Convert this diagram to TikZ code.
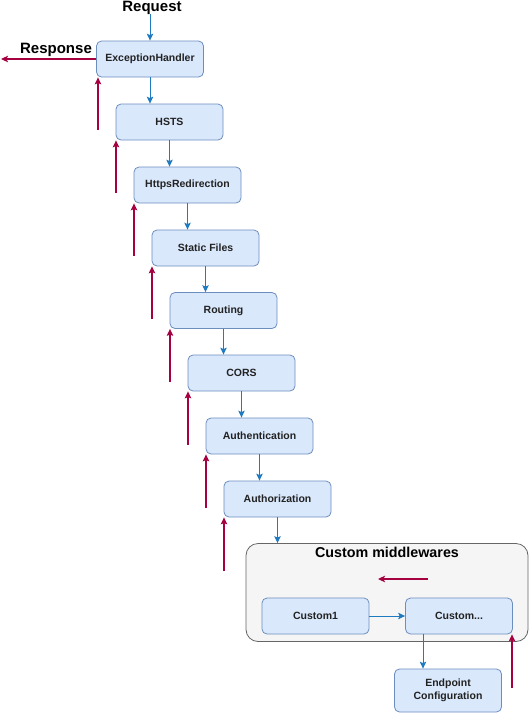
\documentclass[tikz,border=0pt]{standalone}
\usepackage{fontspec}
\setmainfont{Liberation Sans}
\usetikzlibrary{arrows.meta}
\definecolor{boxfill}{HTML}{DAE8FC}
\definecolor{boxline}{HTML}{6C8EBF}
\definecolor{grpfill}{HTML}{F5F5F5}
\definecolor{grpline}{HTML}{666666}
\definecolor{flowblue}{HTML}{1F7BC0}
\definecolor{flowred}{HTML}{A50040}
\definecolor{txt}{HTML}{222222}
\tikzset{
  mwbox/.style={draw=boxline, fill=boxfill, line width=0.8pt, rounded corners=5pt,
    minimum width=107pt, minimum height=36pt, inner sep=0pt, align=center,
    text=txt, font=\fontsize{10.5}{12.5}\selectfont\bfseries},
  grpbox/.style={draw=grpline, fill=grpfill, line width=0.8pt, rounded corners=12pt,
    minimum width=282pt, minimum height=98pt, inner sep=0pt},
  big/.style={font=\fontsize{15}{17}\selectfont\bfseries, text=black, inner sep=0pt},
  fwd/.style={draw=flowblue, line width=1pt, -{Stealth[length=7pt,width=6.5pt,inset=1.5pt]}},
  back/.style={draw=flowred, line width=1.2pt, -{Stealth[length=7pt,width=6.5pt,inset=1.5pt]}}
}
\begin{document}
\begin{tikzpicture}[x=1pt,y=-1pt]
\useasboundingbox (0,0) rectangle (529,715);
% group container
\node[grpbox] (grp) at (387,592.5) {};
\node[big, font=\fontsize{14.3}{16}\selectfont\bfseries, anchor=north] (grptitle) at (387,547) {Custom middlewares};
% boxes
\node[mwbox] (eh) at (150,59) {ExceptionHandler};
\node[mwbox] (hsts) at (169.5,122) {HSTS};
\node[mwbox] (https) at (187.5,185) {HttpsRedirection};
\node[mwbox] (static) at (205.5,248) {Static Files};
\node[mwbox] (routing) at (223.5,310.5) {Routing};
\node[mwbox] (cors) at (241.5,373) {CORS};
\node[mwbox] (authn) at (259.5,436) {Authentication};
\node[mwbox] (authz) at (277.5,499) {Authorization};
\node[mwbox] (c1) at (315.5,616) {Custom1};
\node[mwbox] (cn) at (459,616) {Custom...};
\node[mwbox, minimum height=43pt] (ep) at (448,690.5) {Endpoint\\Configuration};
% labels
\node[big, anchor=north] (req) at (152,0.5) {Request};
\node[big] (resp) at (56,50) {Response};
% free ends
\coordinate (reqend) at (150,14);
\coordinate (respend) at (1,59);
% forward (blue) arrows
\draw[fwd] (reqend) -- (eh.north);
\draw[fwd] (eh.south) -- (eh.south |- hsts.north);
\draw[fwd] (hsts.south) -- (hsts.south |- https.north);
\draw[fwd] (https.south) -- (https.south |- static.north);
\draw[fwd] (static.south) -- (static.south |- routing.north);
\draw[fwd] (routing.south) -- (routing.south |- cors.north);
\draw[fwd] (cors.south) -- (cors.south |- authn.north);
\draw[fwd] (authn.south) -- (authn.south |- authz.north);
\draw[fwd] (authz.south) -- (authz.south |- grp.north);
\draw[fwd] (c1.east) -- (cn.west);
\coordinate (cnout) at (423,634);
\draw[fwd] (cnout) -- (cnout |- ep.north);
% backward (red) arrows
\draw[back] (eh.west) -- (respend);
\coordinate (r1) at (98,130);
\coordinate (r2) at (116,193);
\coordinate (r3) at (134,256);
\coordinate (r4) at (152,319);
\coordinate (r5) at (170,382);
\coordinate (r6) at (188,445);
\coordinate (r7) at (206,508);
\coordinate (r8) at (224,571);
\draw[back] (r1) -- (r1 |- eh.south);
\draw[back] (r2) -- (r2 |- hsts.south);
\draw[back] (r3) -- (r3 |- https.south);
\draw[back] (r4) -- (r4 |- static.south);
\draw[back] (r5) -- (r5 |- routing.south);
\draw[back] (r6) -- (r6 |- cors.south);
\draw[back] (r7) -- (r7 |- authn.south);
\draw[back] (r8) -- (r8 |- authz.south);
\coordinate (rg1) at (428,579);
\coordinate (rg2) at (378,579);
\draw[back] (rg1) -- (rg2);
\coordinate (rep) at (512,688);
\draw[back] (rep) -- (rep |- cn.south);
\end{tikzpicture}
\end{document}
